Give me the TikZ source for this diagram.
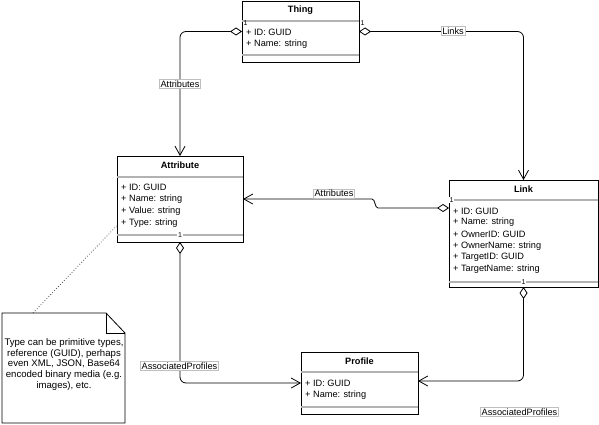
\documentclass[tikz,border=0pt]{standalone}
\usepackage{fontspec}
\setmainfont{Liberation Sans}
\usetikzlibrary{arrows.meta}
\begin{document}
\begin{tikzpicture}[x=1pt,y=-1pt,
  font=\fontsize{9.2}{10.8}\selectfont,
  umlbox/.style={draw=black, line width=0.8pt, fill=white, anchor=north west, inner sep=0pt, outer sep=0pt},
  sepline/.style={draw=black!30, line width=1.1pt},
  boxtitle/.style={font=\fontsize{9.2}{10.8}\selectfont\bfseries, inner sep=0pt},
  attrtext/.style={anchor=west, inner sep=0pt},
  mult/.style={font=\fontsize{7}{8}\selectfont, inner sep=0.6pt},
  multw/.style={mult, fill=white},
  assoc/.style={line width=0.8pt, rounded corners=6pt,
    {Diamond[open,length=12pt,width=8pt,line width=0.8pt]}-{Straight Barb[length=9pt,width=10pt,line width=0.8pt]}},
  elabel/.style={draw=black!25, line width=0.4pt, fill=white, inner sep=1pt},
]
\useasboundingbox (0,0) rectangle (599,425);

% ---------- boxes ----------
\node[umlbox, minimum width=117pt, minimum height=61pt] (thing) at (242,1) {};
\node[umlbox, minimum width=126pt, minimum height=86pt] (attr) at (117,156) {};
\node[umlbox, minimum width=149pt, minimum height=107pt] (link) at (449,180) {};
\node[umlbox, minimum width=117pt, minimum height=62pt] (profile) at (301,352) {};

% separators
\draw[sepline] ([yshift=-20pt]thing.north west) -- ([yshift=-20pt]thing.north east);
\draw[sepline] ([yshift=-54pt]thing.north west) -- ([yshift=-54pt]thing.north east);
\draw[sepline] ([yshift=-21pt]attr.north west) -- ([yshift=-21pt]attr.north east);
\draw[sepline] ([yshift=-79pt]attr.north west) -- ([yshift=-79pt]attr.north east);
\draw[sepline] ([yshift=-20pt]link.north west) -- ([yshift=-20pt]link.north east);
\draw[sepline] ([yshift=-102pt]link.north west) -- ([yshift=-102pt]link.north east);
\draw[sepline] ([yshift=-20pt]profile.north west) -- ([yshift=-20pt]profile.north east);
\draw[sepline] ([yshift=-55pt]profile.north west) -- ([yshift=-55pt]profile.north east);

% titles
\node[boxtitle] (thingT) at (300.5,10) {Thing};
\node[boxtitle] (attrT) at (180,165.5) {Attribute};
\node[boxtitle] (linkT) at (523.5,189) {Link};
\node[boxtitle] (profT) at (359.5,361) {Profile};

% attributes
\node[attrtext] (th1) at (246,32) {+ ID: GUID};
\node[attrtext] (th2) at (246,44) {+ Name: string};

\node[attrtext] (at1) at (121,187) {+ ID: GUID};
\node[attrtext] (at2) at (121,199) {+ Name: string};
\node[attrtext] (at3) at (121,211) {+ Value: string};
\node[attrtext] (at4) at (121,223) {+ Type: string};

\node[attrtext] (l1) at (453,211) {+ ID: GUID};
\node[attrtext] (l2) at (453,222.6) {+ Name: string};
\node[attrtext] (l3) at (453,234.2) {+ OwnerID: GUID};
\node[attrtext] (l4) at (453,245.8) {+ OwnerName: string};
\node[attrtext] (l5) at (453,257.4) {+ TargetID: GUID};
\node[attrtext] (l6) at (453,269) {+ TargetName: string};

\node[attrtext] (p1) at (305,383) {+ ID: GUID};
\node[attrtext] (p2) at (305,395) {+ Name: string};

% multiplicities
\node[mult] (m1) at (245.5,23.5) {1};
\node[mult] (m2) at (362.5,23.5) {1};
\node[multw] (m3) at (451.5,200) {1};
\node[multw] (m4) at (523.5,282) {1};
\node[multw] (m5) at (180,235) {1};

% ---------- note ----------
\draw[line width=0.8pt, fill=white] (2,313) -- (106,313) -- (125,333) -- (125,423) -- (2,423) -- cycle;
\draw[line width=0.8pt] (106,313) -- (106,333) -- (125,333);
\node[align=center, inner sep=0pt, font=\fontsize{9.6}{10.8}\selectfont] (notetxt) at (64,364.5)
  {Type can be primitive types,\\ reference (GUID), perhaps\\ even XML, JSON, Base64\\ encoded binary media (e.g.\\ images), etc.};
\coordinate (notetop) at (33,313);
\coordinate (attrnote) at (116.5,226);
\draw[dotted, line width=0.8pt, black!70] (notetop) -- (attrnote);

% ---------- connectors ----------
\draw[assoc] (thing.west) -| (attr.north);
\draw[assoc] (thing.east) -| (link.north);
\coordinate (lkA) at ([yshift=-28pt]link.north west);
\coordinate (jog1) at (378,208);
\coordinate (jog2) at (372,199);
\draw[line width=0.8pt, {Diamond[open,length=12pt,width=8pt,line width=0.8pt]}-{Straight Barb[length=9pt,width=10pt,line width=0.8pt]}]
  (lkA) -- (jog1) .. controls (374.5,208) and (375.5,199) .. (jog2) -- (attr.east);
\draw[assoc] (attr.south) |- (profile.west);
\coordinate (profR) at ([yshift=2pt]profile.east);
\draw[assoc] (link.south) |- (profR);

% edge labels
\node[elabel] (e1) at (180,84) {Attributes};
\node[elabel] (e2) at (453,31) {Links};
\node[elabel] (e3) at (334,193.5) {Attributes};
\node[elabel] (e4) at (179.5,366) {AssociatedProfiles};
\node[elabel] (e5) at (519.5,412) {AssociatedProfiles};
\end{tikzpicture}
\end{document}
